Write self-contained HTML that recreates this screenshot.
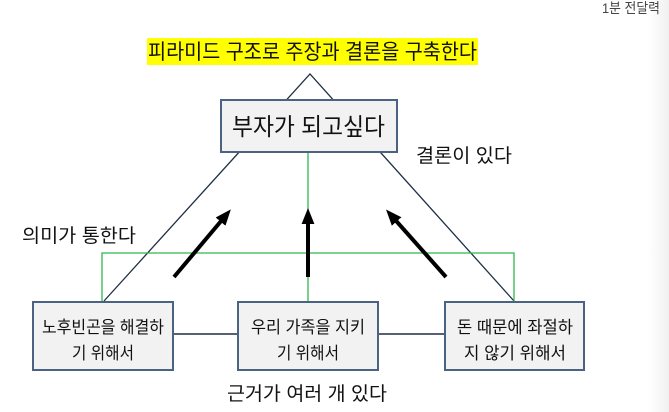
<!DOCTYPE html>
<html><head><meta charset="utf-8"><style>
html,body{margin:0;padding:0;background:#fff;}
svg{display:block;}
text{font-family:"Liberation Sans","Noto Sans CJK KR",sans-serif;fill:#111;}
</style></head><body>
<svg width="669" height="412" viewBox="0 0 669 412" xmlns="http://www.w3.org/2000/svg">
<defs>
<linearGradient id="g" x1="0" x2="1"><stop offset="0" stop-color="#fff"/><stop offset="1" stop-color="#f0f0f0"/></linearGradient>
<marker id="ah" markerWidth="4" markerHeight="4" refX="2.5" refY="2" orient="auto" markerUnits="strokeWidth"><path d="M0,0.4 L4,2 L0,3.6 z" fill="#000"/></marker>
</defs>
<rect x="648" y="0" width="21" height="412" fill="url(#g)"/>
<text x="602" y="13" font-size="14" textLength="58" lengthAdjust="spacingAndGlyphs" style="fill:#444">1분 전달력</text>
<rect x="147" y="38" width="331" height="27" fill="#ffff00"/>
<text x="148" y="59" font-size="21" textLength="329" lengthAdjust="spacingAndGlyphs">피라미드 구조로 주장과 결론을 구축한다</text>
<path d="M104,301 L310,74 L514,301" fill="none" stroke="#1f2f45" stroke-width="1.3"/>
<path d="M308,152 V301 M102,301 V253 H514 V301" fill="none" stroke="#2fb84a" stroke-width="1.3"/>
<rect x="221" y="100" width="176" height="52" fill="#f2f2f2" stroke="#4a6383" stroke-width="2"/>
<text x="232" y="135" font-size="24" textLength="153" lengthAdjust="spacingAndGlyphs">부자가 되고싶다</text>
<text x="416" y="162" font-size="19" textLength="96" lengthAdjust="spacingAndGlyphs">결론이 있다</text>
<text x="22" y="242" font-size="19" textLength="114" lengthAdjust="spacingAndGlyphs">의미가 통한다</text>
<path d="M173,334 H238 M378,334 H445" stroke="#1f2f45" stroke-width="1.5"/>
<rect x="33" y="302" width="140" height="68" fill="#f2f2f2" stroke="#4a6383" stroke-width="2"/>
<rect x="238" y="302" width="140" height="68" fill="#f2f2f2" stroke="#4a6383" stroke-width="2"/>
<rect x="445" y="302" width="139" height="68" fill="#f2f2f2" stroke="#4a6383" stroke-width="2"/>
<g font-size="17">
<text x="42" y="333" textLength="122" lengthAdjust="spacingAndGlyphs">노후빈곤을 해결하</text>
<text x="72" y="359" textLength="62" lengthAdjust="spacingAndGlyphs">기 위해서</text>
<text x="251" y="333" textLength="114" lengthAdjust="spacingAndGlyphs">우리 가족을 지키</text>
<text x="277" y="359" textLength="62" lengthAdjust="spacingAndGlyphs">기 위해서</text>
<text x="457" y="333" textLength="116" lengthAdjust="spacingAndGlyphs">돈 때문에 좌절하</text>
<text x="464" y="359" textLength="102" lengthAdjust="spacingAndGlyphs">지 않기 위해서</text>
</g>
<text x="227" y="400" font-size="19" textLength="160" lengthAdjust="spacingAndGlyphs">근거가 여러 개 있다</text>
<g stroke="#000" stroke-width="4" marker-end="url(#ah)">
<line x1="174" y1="277" x2="227" y2="214"/>
<line x1="308" y1="277" x2="308" y2="214"/>
<line x1="446" y1="277" x2="390" y2="214"/>
</g>
</svg>
</body></html>
